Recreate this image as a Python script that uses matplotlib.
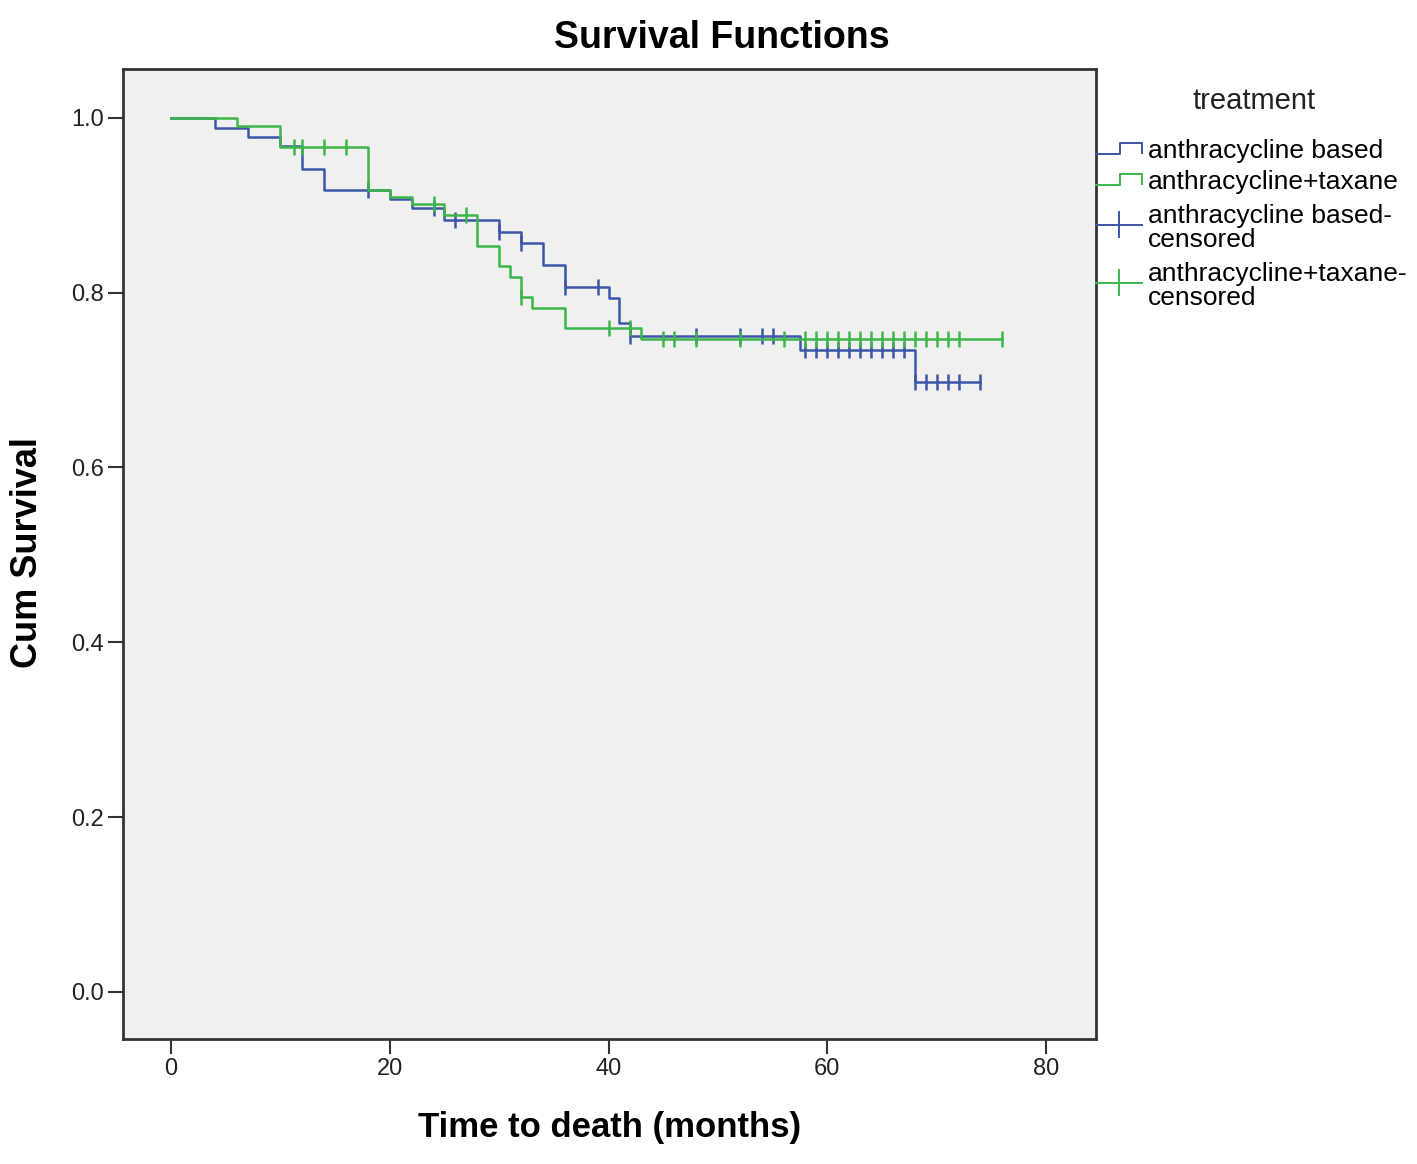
import numpy as np
import matplotlib
matplotlib.use('Agg')
import matplotlib.pyplot as plt
from matplotlib.lines import Line2D

plt.rcParams['font.family'] = ['Liberation Sans', 'DejaVu Sans']

# Kaplan-Meier steps: (time in months, survival after the step)
blue_times = [0, 4, 7, 10, 12, 14, 20, 22, 25, 30, 32, 34, 36, 40, 41, 42, 57.5, 68]
blue_surv = [1.0, 0.989, 0.978, 0.968, 0.942, 0.918, 0.907, 0.897, 0.883, 0.870,
             0.857, 0.832, 0.806, 0.794, 0.765, 0.750, 0.734, 0.698]
blue_end = 74
blue_censored = [18, 24, 26, 30, 32, 36, 39, 42, 48, 52, 54, 55, 58, 59, 60, 61, 62,
                 63, 64, 65, 66, 67, 68, 69, 70, 71, 72, 74]

green_times = [0, 6, 10, 18, 20, 22, 25, 28, 30, 31, 32, 33, 36, 43]
green_surv = [1.0, 0.991, 0.967, 0.918, 0.909, 0.901, 0.889, 0.853, 0.830, 0.818,
              0.795, 0.783, 0.760, 0.747]
green_end = 76
green_censored = [11.2, 12, 14, 16, 24, 27, 32, 40, 42, 45, 46, 48, 52, 56, 58, 59, 60,
                  61, 62, 63, 64, 65, 66, 67, 68, 69, 70, 71, 72, 76]

legend_labels = ['anthracycline based', 'anthracycline+taxane',
                 'anthracycline based-\ncensored', 'anthracycline+taxane-\ncensored']

blue = '#3d55a8'
green = '#3cb54a'


def level_at(times, surv, t):
    """Survival level of a step curve at time t."""
    idx = np.searchsorted(times, t, side='right') - 1
    return np.array(surv)[idx]


fig = plt.figure(figsize=(14.17, 11.64), dpi=100)
ax = fig.add_axes([123 / 1417, 1 - 1039 / 1164, (1096 - 123) / 1417, (1039 - 69) / 1164])
ax.set_facecolor('#f0f0f0')

for times, surv, end, cens, col in [(blue_times, blue_surv, blue_end, blue_censored, blue),
                                    (green_times, green_surv, green_end, green_censored, green)]:
    t = list(times) + [end]
    s = list(surv) + [surv[-1]]
    ax.step(t, s, where='post', color=col, lw=1.8)
    ax.plot(cens, level_at(times, surv, cens), linestyle='none', marker='|',
            markersize=12, markeredgewidth=1.8, color=col)

ax.set_xlim(-4.39, 84.57)
ax.set_ylim(-0.054, 1.056)
ax.set_xticks([0, 20, 40, 60, 80])
ax.set_yticks([0.0, 0.2, 0.4, 0.6, 0.8, 1.0])
ax.set_yticklabels(['0.0', '0.2', '0.4', '0.6', '0.8', '1.0'])
ax.tick_params(direction='out', length=11, width=1.5, labelsize=17, pad=3, color='#333333',
               labelcolor='#222222')
for sp in ax.spines.values():
    sp.set_linewidth(2)
    sp.set_color('#333333')

fig.text(722 / 1417, 1 - 38 / 1164, 'Survival Functions', ha='center', va='center',
         fontsize=27, fontweight='bold')
fig.text(610 / 1417, 1 - 1128 / 1164, 'Time to death (months)', ha='center', va='center',
         fontsize=25, fontweight='bold')
fig.text(28 / 1417, 1 - 553 / 1164, 'Cum Survival', ha='center', va='center',
         fontsize=26, fontweight='bold', rotation=90)

# legend drawn by hand so the step glyphs look like SPSS
lax = fig.add_axes([0, 0, 1, 1], facecolor='none')
lax.set_xlim(0, 1417)
lax.set_ylim(1164, 0)
lax.axis('off')
lax.text(1254, 101, 'treatment', ha='center', va='center', fontsize=21, color='#222222')
for i, col in enumerate([blue, green]):
    y0 = [151, 182][i]
    lax.add_line(Line2D([1096, 1120, 1120, 1142, 1142], [y0 + 3, y0 + 3, y0 - 8, y0 - 8, y0 + 2],
                        color=col, lw=1.4))
for i, col in enumerate([blue, green]):
    y0 = [225, 283][i]
    lax.add_line(Line2D([1096, 1142], [y0, y0], color=col, lw=1.4))
    lax.add_line(Line2D([1119, 1119], [y0 - 13, y0 + 12], color=col, lw=1.4))
text_y = [151, 182, 228, 286]
for lab, y in zip(legend_labels, text_y):
    lax.text(1148, y, lab, ha='left', va='center', fontsize=19, linespacing=0.95)

fig.savefig('out.png', dpi=100)
